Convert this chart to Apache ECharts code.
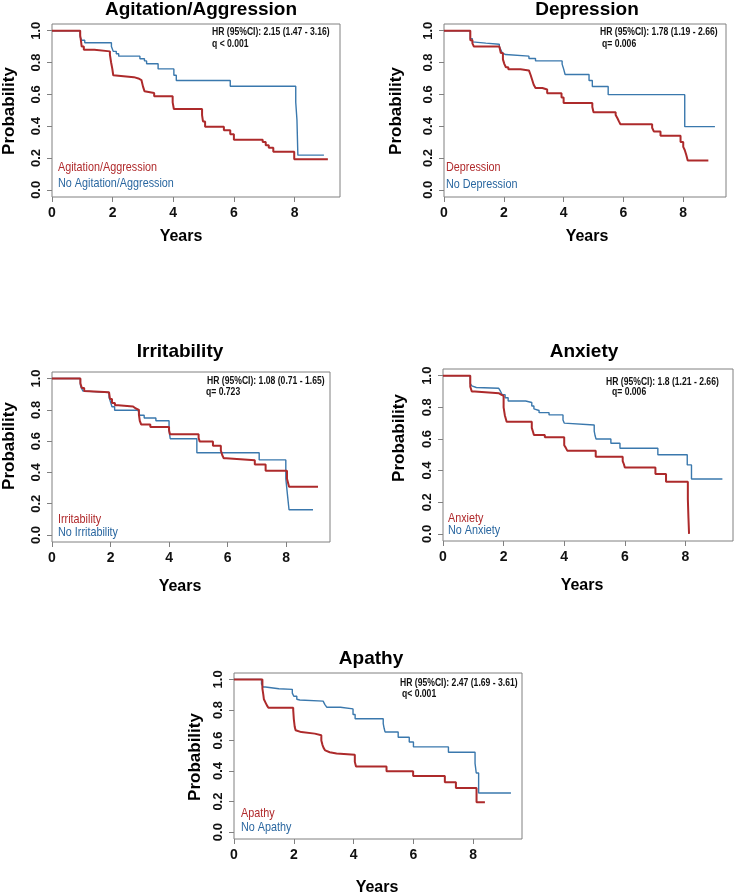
<!DOCTYPE html>
<html>
<head>
<meta charset="utf-8" />
<script src="https://cdn.jsdelivr.net/npm/echarts@6/dist/echarts.min.js"></script>
<style>html,body{margin:0;padding:0;background:#fff;}</style>
</head>
<body>
<div id="main" style="width:736px;height:896px;"></div>
<script type="text/javascript">
// Kaplan-Meier curves, [years, survival probability]
var agitationYes = [[0,1],[0.93,0.97],[0.96,0.93],[0.98,0.90],[1.05,0.88],[1.4,0.87],[1.91,0.85],[1.95,0.80],[1.99,0.76],[2.02,0.72],[2.05,0.708],[2.7,0.70],[2.85,0.69],[2.95,0.68],[3.0,0.65],[3.05,0.62],[3.1,0.609],[3.37,0.588],[3.98,0.55],[4.02,0.508],[4.95,0.47],[4.98,0.43],[5.05,0.397],[5.67,0.374],[5.88,0.35],[6.0,0.315],[6.95,0.30],[7.05,0.28],[7.15,0.265],[7.3,0.24],[7.99,0.192],[9.1,0.192]];
var agitationNo = [[0,1],[0.93,0.96],[0.98,0.94],[1.08,0.924],[1.96,0.90],[2.02,0.87],[2.12,0.855],[2.2,0.84],[2.9,0.824],[3.05,0.81],[3.12,0.792],[3.5,0.76],[4.02,0.72],[4.1,0.687],[5.88,0.651],[8.04,0.55],[8.08,0.44],[8.11,0.218],[8.97,0.218]];
var depressionYes = [[0,1],[0.88,0.94],[0.95,0.92],[1.0,0.90],[1.85,0.89],[1.9,0.86],[1.97,0.82],[2.02,0.79],[2.07,0.77],[2.15,0.757],[2.56,0.75],[2.84,0.74],[2.9,0.72],[2.95,0.69],[3.0,0.66],[3.06,0.64],[3.29,0.63],[3.45,0.607],[3.93,0.58],[4.0,0.545],[4.96,0.52],[5.0,0.487],[5.74,0.47],[5.8,0.45],[5.85,0.43],[5.9,0.412],[6.96,0.39],[7.02,0.366],[7.24,0.34],[7.91,0.30],[8.0,0.27],[8.05,0.25],[8.1,0.22],[8.15,0.185],[8.84,0.185]];
var depressionNo = [[0,1],[0.88,0.95],[0.95,0.93],[1.0,0.922],[1.4,0.915],[1.85,0.90],[1.9,0.88],[1.95,0.86],[2.0,0.85],[2.06,0.84],[2.84,0.825],[3.06,0.81],[3.95,0.79],[4.0,0.76],[4.05,0.725],[4.85,0.687],[4.96,0.649],[5.49,0.598],[8.05,0.397],[9.06,0.397]];
var irritabilityYes = [[0,1],[0.97,0.97],[1.02,0.94],[1.1,0.92],[1.15,0.912],[1.95,0.90],[1.98,0.87],[2.05,0.843],[2.15,0.83],[2.26,0.822],[2.77,0.81],[2.85,0.80],[2.97,0.77],[3.0,0.73],[3.05,0.706],[3.36,0.69],[4.0,0.67],[4.03,0.644],[5.01,0.62],[5.05,0.597],[5.5,0.57],[5.77,0.54],[5.82,0.51],[5.87,0.49],[5.95,0.478],[6.93,0.45],[7.3,0.411],[8.03,0.36],[8.07,0.33],[8.1,0.308],[9.09,0.308]];
var irritabilityNo = [[0,1],[0.97,0.96],[1.0,0.94],[1.06,0.92],[1.15,0.91],[1.95,0.88],[2.0,0.85],[2.05,0.82],[2.14,0.797],[2.94,0.785],[3.0,0.765],[3.15,0.748],[3.55,0.73],[4.0,0.67],[4.04,0.615],[4.95,0.526],[7.08,0.48],[7.99,0.36],[8.05,0.25],[8.1,0.161],[8.92,0.161]];
var anxietyYes = [[0,1],[0.9,0.93],[0.95,0.90],[1.05,0.888],[1.85,0.88],[1.92,0.872],[2.0,0.80],[2.04,0.75],[2.1,0.709],[2.93,0.67],[2.97,0.645],[3.0,0.625],[3.36,0.61],[4.0,0.56],[4.05,0.545],[4.1,0.526],[5.04,0.488],[5.93,0.46],[5.97,0.44],[6.0,0.419],[7.01,0.379],[7.36,0.33],[8.08,0.22],[8.1,0.10],[8.12,0.0]];
var anxietyNo = [[0,1],[0.9,0.95],[0.95,0.935],[1.0,0.925],[1.1,0.92],[1.84,0.915],[1.9,0.90],[1.95,0.88],[2.05,0.86],[2.15,0.84],[2.73,0.83],[2.93,0.808],[3.0,0.79],[3.05,0.78],[3.17,0.766],[3.5,0.752],[3.96,0.72],[4.0,0.70],[4.05,0.688],[4.99,0.65],[5.02,0.62],[5.05,0.60],[5.54,0.573],[5.84,0.541],[7.09,0.50],[8.06,0.436],[8.2,0.347],[9.22,0.347]];
var apathyYes = [[0,1],[0.95,0.94],[0.98,0.90],[1.0,0.87],[1.05,0.85],[1.1,0.83],[1.15,0.814],[1.98,0.80],[2.0,0.74],[2.03,0.69],[2.06,0.667],[2.1,0.655],[2.25,0.645],[2.7,0.635],[2.92,0.60],[2.96,0.57],[3.0,0.55],[3.05,0.535],[3.1,0.523],[3.2,0.515],[3.43,0.507],[4.04,0.46],[4.08,0.429],[5.1,0.398],[5.99,0.368],[7.05,0.326],[7.42,0.289],[8.11,0.195],[8.39,0.195]];
var apathyNo = [[0,1],[0.92,0.97],[0.97,0.95],[1.05,0.939],[1.5,0.935],[1.95,0.91],[2.0,0.89],[2.1,0.87],[2.15,0.865],[2.2,0.858],[2.98,0.85],[3.04,0.835],[3.1,0.818],[3.56,0.807],[3.98,0.77],[4.05,0.742],[4.99,0.71],[5.02,0.68],[5.05,0.656],[5.49,0.621],[5.86,0.59],[6.0,0.558],[7.17,0.523],[8.06,0.45],[8.1,0.387],[8.18,0.256],[9.26,0.256]];

var titles = ['Agitation/Aggression', 'Depression', 'Irritability', 'Anxiety', 'Apathy'];
var hrLabels = ['HR (95%CI): 2.15 (1.47 - 3.16)', 'HR (95%CI): 1.78 (1.19 - 2.66)', 'HR (95%CI): 1.08 (0.71 - 1.65)', 'HR (95%CI): 1.8 (1.21 - 2.66)', 'HR (95%CI): 2.47 (1.69 - 3.61)'];
var qLabels = ['q < 0.001', 'q= 0.006', 'q= 0.723', 'q= 0.006', 'q< 0.001'];
var yesCurves = [agitationYes, depressionYes, irritabilityYes, anxietyYes, apathyYes];
var noCurves = [agitationNo, depressionNo, irritabilityNo, anxietyNo, apathyNo];
var xTicks = [0, 2, 4, 6, 8];
var yTicks = [0, 0.2, 0.4, 0.6, 0.8, 1.0];

// layout of each panel (pixels)
var layout = [
    { box: [52, 24, 288, 173], xMax: 9.5, title: [201, 10], hr: [212, 32, 212, 44], leg: [58, 167, 183], years: [181, 237], prob: [9, 111] },
    { box: [444, 24, 282, 173], xMax: 9.43, title: [587, 10], hr: [600, 32, 602, 44], leg: [446, 167, 184], years: [587, 237], prob: [396, 111] },
    { box: [52, 372, 278, 170], xMax: 9.5, title: [180, 352], hr: [207, 381, 206, 392], leg: [58, 519, 532], years: [180, 587], prob: [9, 446] },
    { box: [443, 369, 290, 172], xMax: 9.57, title: [584, 352], hr: [606, 382, 612, 392], leg: [448, 518, 530], years: [582, 586], prob: [399, 438] },
    { box: [234, 673, 288, 166], xMax: 9.63, title: [371, 659], hr: [400, 683, 402, 694], leg: [241, 813, 827], years: [377, 888], prob: [195, 757] }
];

var RED = '#ad2a2b';
var BLUE = '#3a78ad';
var SANS = '"Liberation Sans", Arial, sans-serif';

var myChart = echarts.init(document.getElementById('main'), null, { renderer: 'canvas' });

var grids = [], xAxes = [], yAxes = [], series = [], graphics = [];

// sx squeezes text horizontally (the source uses a narrow face)
function txt(x, y, text, font, color, align, rot, sx) {
    return {
        type: 'text', x: x, y: y, rotation: rot || 0, scaleX: sx || 1,
        style: { text: text, font: font, fill: color, align: align || 'left', verticalAlign: 'middle' },
        silent: true
    };
}

layout.forEach(function (p, i) {
    grids.push({ left: p.box[0], top: p.box[1], width: p.box[2], height: p.box[3], show: true, borderColor: '#808080', borderWidth: 1, backgroundColor: 'transparent' });
    xAxes.push({
        type: 'value', gridIndex: i, min: 0, max: p.xMax,
        axisLine: { show: false, onZero: false },
        axisTick: { show: true, length: 5, customValues: xTicks, lineStyle: { color: '#808080' } },
        axisLabel: { customValues: xTicks, fontFamily: SANS, fontWeight: 'bold', fontSize: 14, color: '#111', margin: 9 },
        splitLine: { show: false }
    });
    yAxes.push({
        type: 'value', gridIndex: i, min: -0.045, max: 1.042,
        axisLine: { show: false, onZero: false },
        axisTick: { show: true, length: 5, customValues: yTicks, lineStyle: { color: '#808080' } },
        axisLabel: {
            customValues: yTicks, rotate: 90, fontFamily: SANS, fontWeight: 'bold', fontSize: 13, color: '#111', margin: 9,
            formatter: function (v) { return v.toFixed(1); }
        },
        splitLine: { show: false }
    });
    series.push({
        name: titles[i], type: 'line', step: 'end', xAxisIndex: i, yAxisIndex: i,
        data: yesCurves[i], symbol: 'none', lineStyle: { color: RED, width: 2 }, z: 3
    });
    series.push({
        name: 'No ' + titles[i], type: 'line', step: 'end', xAxisIndex: i, yAxisIndex: i,
        data: noCurves[i], symbol: 'none', lineStyle: { color: BLUE, width: 1.4 }, z: 2
    });

    graphics.push(txt(p.title[0], p.title[1], titles[i], 'bold 19px ' + SANS, '#000', 'center'));
    graphics.push(txt(p.hr[0], p.hr[1], hrLabels[i], 'bold 10px ' + SANS, '#111', 'left', 0, 0.86));
    graphics.push(txt(p.hr[2], p.hr[3], qLabels[i], 'bold 10px ' + SANS, '#111', 'left', 0, 0.86));
    graphics.push(txt(p.leg[0], p.leg[1], titles[i], '13.5px ' + SANS, '#b02a2c', 'left', 0, 0.8));
    graphics.push(txt(p.leg[0], p.leg[2], 'No ' + titles[i], '13.5px ' + SANS, '#2a67a0', 'left', 0, 0.8));
    graphics.push(txt(p.years[0], p.years[1], 'Years', 'bold 16px ' + SANS, '#000', 'center'));
    graphics.push(txt(p.prob[0], p.prob[1], 'Probability', 'bold 17px ' + SANS, '#000', 'center', Math.PI / 2));
});

var option = {
    animation: false,
    backgroundColor: '#fff',
    grid: grids,
    xAxis: xAxes,
    yAxis: yAxes,
    series: series,
    graphic: { elements: graphics }
};

myChart.setOption(option);
</script>
</body>
</html>
